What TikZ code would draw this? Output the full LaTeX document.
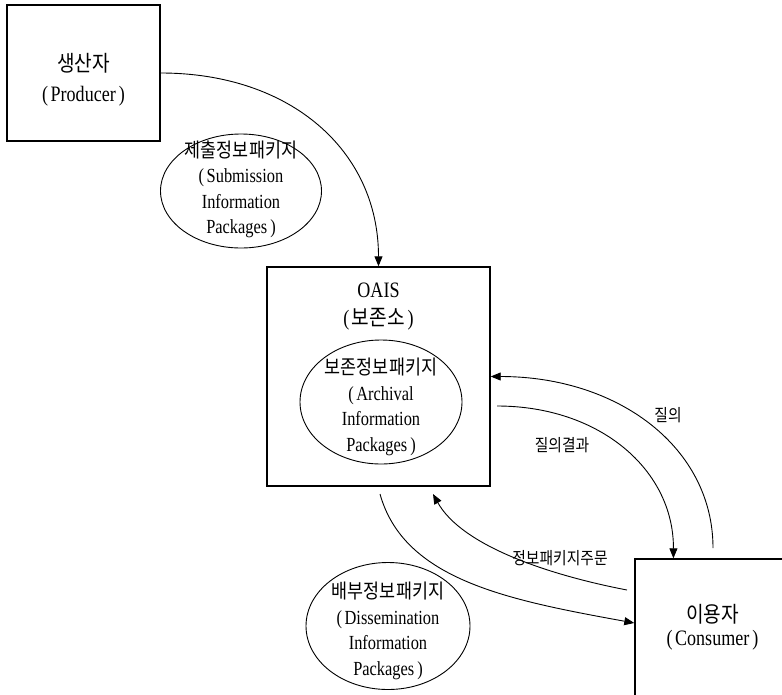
\documentclass[tikz,border=0pt]{standalone}
\usepackage{fontspec}
\usetikzlibrary{arrows.meta,shapes.geometric,calc}
\newfontfamily\krf[FakeStretch=0.87]{Noto Sans CJK KR}
\newfontfamily\enf[FakeStretch=0.82]{Liberation Serif}
\newcommand\kk[1]{{\krf #1}}
\newcommand\lp{(\kern2.5pt}
\newcommand\rp{\kern3pt)}
\tikzset{
  boxn/.style={draw, line width=1.4pt, inner sep=0pt},
  boxtxt/.style={align=center, inner sep=0pt, font=\enf\fontsize{22}{30}\selectfont},
  pkg/.style={draw, ellipse, line width=0.9pt, inner sep=0pt},
  pkgtxt/.style={align=center, inner sep=0pt, font=\enf\fontsize{20}{25.5}\selectfont},
  lbl/.style={inner sep=0pt, font=\krf\fontsize{17}{20}\selectfont},
  arr/.style={line width=0.9pt, -{Triangle[length=10pt,width=8pt]}}
}
\begin{document}
\begin{tikzpicture}[x=1pt,y=-1pt]
\path[use as bounding box] (0,0) rectangle (782,694);
\clip (0,0) rectangle (782,694);
% boxes
\node[boxn, minimum width=153pt, minimum height=136pt] (prod) at (83.5,73) {};
\node[boxtxt] (prodt) at (83.5,79.5) {\kk{생산자}\\\lp Producer\rp};
\node[boxn, minimum width=223pt, minimum height=219pt] (oais) at (378.5,376.5) {};
\node[boxtxt, font=\enf\fontsize{22}{28}\selectfont] (oaist) at (378.5,307) {OAIS\\\lp\kk{보존소}\rp};
\node[boxn, minimum width=155pt, minimum height=140pt] (cons) at (712.5,629) {};
\node[boxtxt, font=\enf\fontsize{22}{23}\selectfont] (const) at (712.5,627) {\kk{이용자}\\\lp Consumer\rp};
% packages
\node[pkg, minimum width=161pt, minimum height=114pt] (sip) at (241,191) {};
\node[pkgtxt] (sipt) at (241,189.5) {\kk{제출정보패키지}\\\lp Submission\\Information\\Packages\rp};
\node[pkg, minimum width=162pt, minimum height=124pt] (aip) at (381,402) {};
\node[pkgtxt] (aipt) at (381,407) {\kk{보존정보패키지}\\\lp Archival\\Information\\Packages\rp};
\node[pkg, minimum width=164pt, minimum height=127pt] (dip) at (388,626) {};
\node[pkgtxt] (dipt) at (388,631) {\kk{배부정보패키지}\\\lp Dissemination\\Information\\Packages\rp};
% free ends
\coordinate (q1) at (713,548);
\coordinate (r1) at (497,406);
\coordinate (o1) at (627,590);
\coordinate (o2) at (433,494);
\coordinate (d1) at (380,494);
\coordinate (cq) at ($(cons.north west)!0.25!(cons.north east)$);
% connectors
\draw[arr] (prod.east) .. controls (291,73) and (378.5,151) .. (oais.north);
\draw[arr] (q1) .. controls (713,448) and (619,376.5) .. (oais.east);
\draw[arr] (r1) .. controls (600,406) and (673.75,470) .. (cq);
\draw[arr] (o1) .. controls (549,575) and (462,546) .. (o2);
\draw[arr] (d1) .. controls (404,580) and (508,600) .. ([yshift=6pt]cons.west);
% labels
\node[lbl] (lq) at (668,415) {질의};
\node[lbl] (lr) at (562,445) {질의결과};
\node[lbl] (lo) at (560,558) {정보패키지주문};
\end{tikzpicture}
\end{document}
